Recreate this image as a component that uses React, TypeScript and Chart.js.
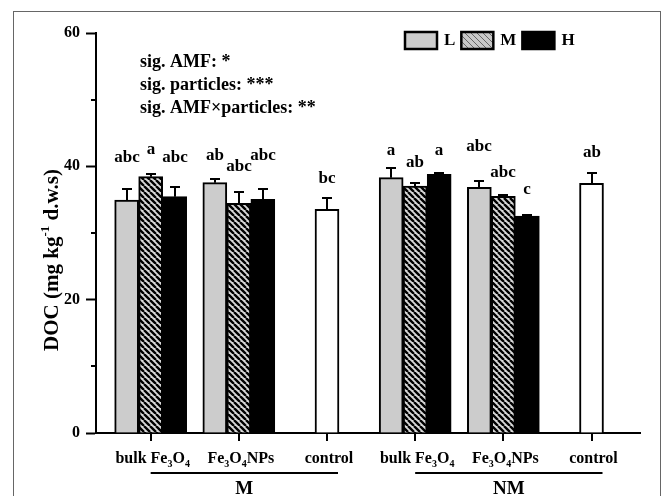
import React, { useEffect, useRef } from "react";
import { Chart, registerables } from "chart.js";

Chart.register(...registerables);

// ---------- data ----------
const categories = ["bulk Fe3O4", "Fe3O4NPs", "control", "bulk Fe3O4", "Fe3O4NPs", "control"];
const groupNames = ["M", "NM"];
const seriesNames = ["L", "M", "H"];

const valuesL = [34.95, 37.55, null, 38.3, 36.85, null];
const valuesM = [38.45, 34.45, null, 37.05, 35.5, null];
const valuesH = [35.45, 35.05, null, 38.8, 32.55, null];
const valuesControl = [null, null, 33.55, null, null, 37.45];

const errL = [1.6, 0.55, null, 1.5, 1.0, null];
const errM = [0.4, 1.75, null, 0.5, 0.15, null];
const errH = [1.5, 1.5, null, 0.25, 0.15, null];
const errControl = [null, null, 1.65, null, null, 1.5];

const lettersL = ["abc", "ab", null, "a", "abc", null];
const lettersM = ["a", "abc", null, "ab", "abc", null];
const lettersH = ["abc", "abc", null, "a", "c", null];
const lettersControl = [null, null, "bc", null, null, "ab"];

// DOC level at which each significance letter sits
const letterLevelL = [41.3, 41.6, null, 42.3, 43.0, null];
const letterLevelM = [42.5, 40.0, null, 40.5, 39.0, null];
const letterLevelH = [41.3, 41.6, null, 42.3, 36.5, null];
const letterLevelControl = [null, null, 38.2, null, null, 42.1];

const significance = ["sig. AMF: *", "sig. particles: ***", "sig. AMF\u00d7particles: **"];
const yMin = 0;
const yMax = 60;
const yMajorStep = 20;
const yMinorStep = 10;

const errors = [errL, errM, errH, errControl];
const letters = [lettersL, lettersM, lettersH, lettersControl];
const letterLevels = [letterLevelL, letterLevelM, letterLevelH, letterLevelControl];

const FONT = '"Liberation Serif", "Times New Roman", serif';

type Part = { t: string; mode: "n" | "sub" | "sup" };

function chemParts(label: string): Part[] {
  return label
    .split(/(\d)/)
    .filter((s) => s.length > 0)
    .map((s) => ({ t: s, mode: /^\d$/.test(s) ? "sub" : "n" }));
}

function drawRich(ctx: CanvasRenderingContext2D, parts: Part[], cx: number, cy: number, size: number) {
  const small = Math.round(size * 0.62);
  let total = 0;
  for (const p of parts) {
    ctx.font = `bold ${p.mode === "n" ? size : small}px ${FONT}`;
    total += ctx.measureText(p.t).width;
  }
  let x = cx - total / 2;
  const base = cy + size * 0.33;
  ctx.textAlign = "left";
  ctx.textBaseline = "alphabetic";
  for (const p of parts) {
    ctx.font = `bold ${p.mode === "n" ? size : small}px ${FONT}`;
    let yy = base;
    if (p.mode === "sub") yy = base + size * 0.22;
    if (p.mode === "sup") yy = base - size * 0.42;
    ctx.fillText(p.t, x, yy);
    x += ctx.measureText(p.t).width;
  }
}

function makeHatch(size: number, bg: string, fg: string, lw: number) {
  const c = document.createElement("canvas");
  c.width = size;
  c.height = size;
  const g = c.getContext("2d")!;
  g.fillStyle = bg;
  g.fillRect(0, 0, size, size);
  g.strokeStyle = fg;
  g.lineWidth = lw;
  g.beginPath();
  for (const k of [-size, 0, size]) {
    g.moveTo(k, 0);
    g.lineTo(k + size, size);
  }
  g.stroke();
  return g.createPattern(c, "repeat")!;
}

export default function App() {
  const ref = useRef<HTMLCanvasElement>(null);

  useEffect(() => {
    const canvas = ref.current!;
    const hatch = makeHatch(6, "#d8d8d8", "#000", 2.4);
    const legendHatch = makeHatch(6, "#c8c8c8", "#666", 1);

    const fills = ["#cccccc", hatch, "#000000", "#ffffff"];

    const annotate = {
      id: "annotate",
      afterDatasetsDraw(chart: any) {
        const ctx: CanvasRenderingContext2D = chart.ctx;
        const xs = chart.scales.x;
        const ys = chart.scales.y;
        const area = chart.chartArea;
        ctx.save();
        ctx.fillStyle = "#000";
        ctx.strokeStyle = "#000";

        // minor y ticks
        ctx.lineWidth = 2;
        for (let v = yMin + yMinorStep; v < yMax; v += yMajorStep) {
          const py = Math.round(ys.getPixelForValue(v));
          ctx.beginPath();
          ctx.moveTo(area.left - 5, py);
          ctx.lineTo(area.left, py);
          ctx.stroke();
        }

        // x tick marks at category centres
        categories.forEach((_, i) => {
          const px = Math.round(xs.getPixelForValue(i));
          ctx.lineWidth = 2;
          ctx.beginPath();
          ctx.moveTo(px, area.bottom);
          ctx.lineTo(px, area.bottom + 8);
          ctx.stroke();
        });

        // error bars + letters
        chart.data.datasets.forEach((ds: any, di: number) => {
          const meta = chart.getDatasetMeta(di);
          meta.data.forEach((bar: any, i: number) => {
            const pt = ds.data[i];
            const v = pt ? pt.y : null;
            if (v == null) return;
            const e = errors[di][i];
            const cx = Math.round(bar.x);
            if (e != null) {
              const top = ys.getPixelForValue(v);
              const et = Math.round(ys.getPixelForValue(v + e));
              ctx.lineWidth = 2;
              ctx.beginPath();
              ctx.moveTo(cx, top);
              ctx.lineTo(cx, et);
              ctx.moveTo(cx - 5, et);
              ctx.lineTo(cx + 5, et);
              ctx.stroke();
            }
            const lt = letters[di][i];
            const ll = letterLevels[di][i];
            if (lt && ll != null) {
              ctx.font = `bold 17px ${FONT}`;
              ctx.textAlign = "center";
              ctx.textBaseline = "middle";
              ctx.fillText(lt, cx, ys.getPixelForValue(ll));
            }
          });
        });

        // x labels
        categories.forEach((c, i) => {
          const px = xs.getPixelForValue(i);
          drawRich(ctx, chemParts(c), px + 2, area.bottom + 25, 16);
        });

        // group underlines + labels
        groupNames.forEach((g, gi) => {
          const x0 = xs.getPixelForValue(gi * 3);
          const x1 = xs.getPixelForValue(gi * 3 + 2) + 11;
          const ly = area.bottom + 40;
          ctx.lineWidth = 2;
          ctx.beginPath();
          ctx.moveTo(x0, ly);
          ctx.lineTo(x1, ly);
          ctx.stroke();
          ctx.font = `bold 19px ${FONT}`;
          ctx.textAlign = "center";
          ctx.textBaseline = "middle";
          ctx.fillText(g, (x0 + x1) / 2, area.bottom + 56);
        });

        // y title
        ctx.save();
        ctx.translate(51, 260);
        ctx.rotate(-Math.PI / 2);
        drawRich(
          ctx,
          [
            { t: "DOC (mg kg", mode: "n" },
            { t: "-1", mode: "sup" },
            { t: " d.w.s)", mode: "n" },
          ],
          0,
          0,
          21
        );
        ctx.restore();

        // significance text
        ctx.font = `bold 18px ${FONT}`;
        ctx.textAlign = "left";
        ctx.textBaseline = "middle";
        significance.forEach((s, i) => {
          ctx.fillText(s, 140, 62 + i * 23);
        });

        // legend
        const legendFills = ["#cccccc", legendHatch, "#000000"];
        let lx = 405;
        const ly = 32;
        seriesNames.forEach((n, i) => {
          ctx.fillStyle = legendFills[i] as any;
          ctx.fillRect(lx, ly, 32, 17);
          ctx.lineWidth = 2.5;
          ctx.strokeStyle = "#000";
          ctx.strokeRect(lx, ly, 32, 17);
          ctx.fillStyle = "#000";
          ctx.font = `bold 17px ${FONT}`;
          ctx.textAlign = "left";
          ctx.textBaseline = "middle";
          ctx.fillText(n, lx + 39, ly + 9);
          const w = ctx.measureText(n).width;
          lx += 39 + w + 6;
        });

        ctx.restore();
      },
    };

    const mk = (label: string, data: (number | null)[], fill: any) => ({
      label,
      data: data.map((v, i) => ({ x: i, y: v })),
      backgroundColor: fill,
      borderColor: "#000",
      borderWidth: 2,
      barThickness: 24,
      skipNull: true,
    });

    const chart = new Chart(canvas, {
      type: "bar",
      data: {
        datasets: [
          mk(seriesNames[0], valuesL, fills[0]),
          mk(seriesNames[1], valuesM, fills[1]),
          mk(seriesNames[2], valuesH, fills[2]),
          mk("control", valuesControl, fills[3]),
        ] as any,
      },
      options: {
        responsive: false,
        animation: false,
        layout: { padding: { left: 0, right: 29, top: 33, bottom: 0 } },
        plugins: { legend: { display: false }, tooltip: { enabled: false } },
        scales: {
          x: {
            type: "linear",
            min: -0.62,
            max: 5.55,
            offset: false,
            grid: { display: false },
            border: { display: true, color: "#000", width: 2 },
            ticks: { display: false },
            afterBuildTicks: (s: any) => {
              s.ticks = categories.map((_, i) => ({ value: i }));
            },
            afterFit: (s: any) => {
              s.height = 63;
            },
          },
          y: {
            min: yMin,
            max: yMax,
            ticks: {
              stepSize: yMinorStep,
              padding: 6,
              color: "#000",
              font: { family: FONT, weight: "bold", size: 16 },
              callback: (v: any) => (v % yMajorStep === 0 ? String(v) : ""),
            },
            grid: {
              drawOnChartArea: false,
              tickLength: 10,
              tickWidth: 2,
              tickColor: (c: any) => (c.tick && c.tick.value % yMajorStep === 0 ? "#000" : "rgba(0,0,0,0)"),
            },
            border: { color: "#000", width: 2 },
            afterFit: (s: any) => {
              s.width = 96;
            },
          },
        },
      } as any,
      plugins: [annotate],
    });
    return () => chart.destroy();
  }, []);

  return (
    <div
      style={{
        position: "fixed",
        left: 0,
        top: 0,
        width: 669,
        height: 496,
        background: "#fff",
        overflow: "hidden",
      }}
    >
      <canvas ref={ref} width={669} height={496} style={{ position: "absolute", left: 0, top: 0, width: 669, height: 496 }} />
      <div
        style={{
          position: "absolute",
          left: 13,
          top: 11,
          width: 646,
          height: 520,
          border: "1px solid #666",
          pointerEvents: "none",
        }}
      />
    </div>
  );
}
